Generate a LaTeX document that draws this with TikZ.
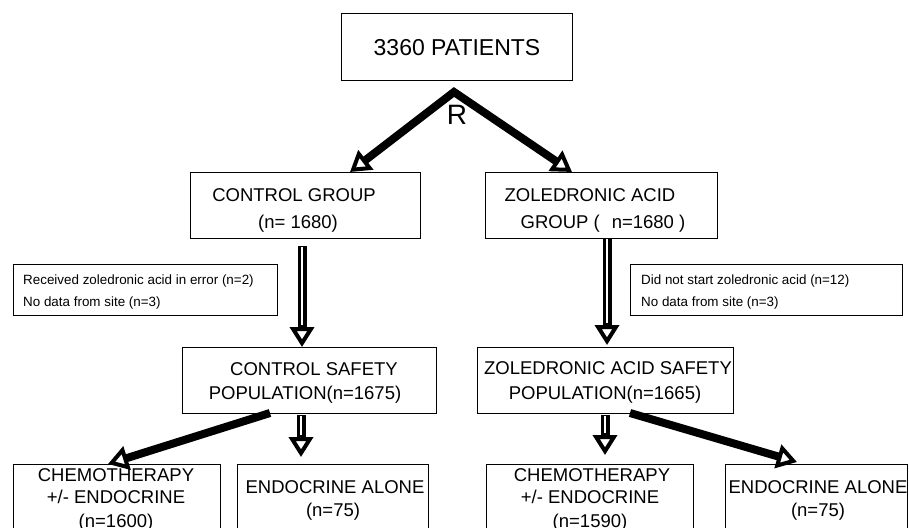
\documentclass[tikz,border=0pt]{standalone}
\usepackage{fontspec}
\setmainfont{Liberation Sans}
\usetikzlibrary{arrows.meta,calc}
\begin{document}
\begin{tikzpicture}[x=1pt,y=-1pt,
  box/.style={draw,line width=1pt,inner sep=0pt,outer sep=0pt},
  lbl/.style={inner sep=0pt,anchor=base,font=\fontsize{18.5}{22}\selectfont},
  notetxt/.style={inner sep=0pt,anchor=base west,font=\fontsize{13.4}{16}\selectfont},
  tip/.tip={Triangle[open,length=20pt,width=24pt,line width=4pt]},
  fat/.style={line width=8pt,-tip},
  fatv/.style={line width=9pt,-tip},
  core/.style={white,line width=1.1pt,shorten >=22pt,shorten <=1pt}]
\useasboundingbox (0,0) rectangle (909,527);
\clip (0,0) rectangle (909,527);
% boxes
\node[box,minimum width=231pt,minimum height=66pt] (top) at (456.5,47) {};
\node[box,minimum width=230pt,minimum height=66pt] (cg) at (305,205) {};
\node[box,minimum width=232pt,minimum height=66pt] (zg) at (601,205) {};
\node[box,minimum width=264pt,minimum height=51pt] (noteL) at (145,289.5) {};
\node[box,minimum width=272pt,minimum height=51pt] (noteR) at (766,289.5) {};
\node[box,minimum width=254pt,minimum height=66pt] (cs) at (309,380) {};
\node[box,minimum width=256pt,minimum height=66pt] (zs) at (605,380) {};
\node[box,minimum width=207pt,minimum height=81pt] (chL) at (116.5,504.5) {};
\node[box,minimum width=191pt,minimum height=81pt] (enL) at (332.5,504.5) {};
\node[box,minimum width=207pt,minimum height=81pt] (chR) at (589.5,504.5) {};
\node[box,minimum width=182pt,minimum height=81pt] (enR) at (816,504.5) {};
% texts
\node[lbl,font=\fontsize{23}{28}\selectfont] (topT) at (457,56) {3360 PATIENTS};
\node[lbl,font=\fontsize{28}{32}\selectfont] (rT) at (457,124) {R};
\node[lbl] (cgT1) at (294,201.6) {CONTROL GROUP};
\node[lbl] (cgT2) at (298,228.6) {(n= 1680)};
\node[lbl] (zgT1) at (590,201.6) {ZOLEDRONIC ACID};
\node[lbl] (zgT2) at (603,228.6) {GROUP (\hspace{12pt}n=1680 )};
\node[notetxt] (nL1) at (23,284) {Received zoledronic acid in error (n=2)};
\node[notetxt] (nL2) at (23,306) {No data from site (n=3)};
\node[notetxt] (nR1) at (641,284) {Did not start zoledronic acid (n=12)};
\node[notetxt] (nR2) at (641,306) {No data from site (n=3)};
\node[lbl] (csT1) at (314,375.6) {CONTROL SAFETY};
\node[lbl] (csT2) at (305,399.6) {POPULATION(n=1675)};
\node[lbl] (zsT1) at (608,374) {ZOLEDRONIC ACID SAFETY};
\node[lbl] (zsT2) at (605,399.6) {POPULATION(n=1665)};
\node[lbl] (chLT1) at (116,481.6) {CHEMOTHERAPY};
\node[lbl] (chLT2) at (116,503.6) {+/- ENDOCRINE};
\node[lbl] (chLT3) at (116,527.6) {(n=1600)};
\node[lbl] (enLT1) at (335,493.6) {ENDOCRINE ALONE};
\node[lbl] (enLT2) at (333,516.6) {(n=75)};
\node[lbl] (chRT1) at (592,481.6) {CHEMOTHERAPY};
\node[lbl] (chRT2) at (590,503.6) {+/- ENDOCRINE};
\node[lbl] (chRT3) at (590,527.6) {(n=1590)};
\node[lbl] (enRT1) at (818,493.6) {ENDOCRINE ALONE};
\node[lbl] (enRT2) at (818,516.6) {(n=75)};
% connector points
\coordinate (apex) at ($(top.south)+(-2.5,12)$);
\coordinate (tipL) at ($(cg.north west)+(160,0)$);
\coordinate (tipR) at ($(zg.north west)+(87,0)$);
\coordinate (cgB) at ($(cg.south)+(-3,8)$);
\coordinate (csA) at ($(cs.north west)+(120,0)$);
\coordinate (zgB) at ($(zg.south)+(6,0)$);
\coordinate (zsA) at ($(zs.north)+(2,-2)$);
\coordinate (csB1) at ($(cs.south west)+(88,0)$);
\coordinate (chLA) at ($(chL.north west)+(95,0)$);
\coordinate (csB2) at ($(cs.south west)+(119,2)$);
\coordinate (enLA) at ($(enL.north west)+(64,-7)$);
\coordinate (zsB1) at ($(zs.south west)+(128,2)$);
\coordinate (chRA) at ($(chR.north west)+(119,-9)$);
\coordinate (zsB2) at ($(zs.south west)+(153,0)$);
\coordinate (enRA) at ($(enR.north west)+(72,-2)$);
% arrows
\draw[line width=8pt,tip-tip] (tipL) -- (apex) -- (tipR);
\draw[fatv] (cgB) -- (csA);
\draw[core] (cgB) -- (csA);
\draw[fatv] (zgB) -- (zsA);
\draw[core] (zgB) -- (zsA);
\draw[fat] (csB1) -- (chLA);
\draw[fatv] (csB2) -- (enLA);
\draw[core] (csB2) -- (enLA);
\draw[fatv] (zsB1) -- (chRA);
\draw[core] (zsB1) -- (chRA);
\draw[fat] (zsB2) -- (enRA);
\end{tikzpicture}
\end{document}
